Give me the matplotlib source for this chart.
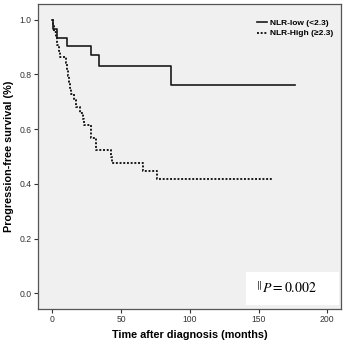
import numpy as np
import matplotlib
matplotlib.use('Agg')
import matplotlib.pyplot as plt
from matplotlib.lines import Line2D

# Kaplan-Meier step data
low_t = [0, 0.8, 3.6, 10.5, 27.9, 34.0, 86.5, 176.7]
low_s = [1.0, 0.968, 0.935, 0.903, 0.871, 0.830, 0.760, 0.760]

high_t = [0, 0.5, 1.5, 2.5, 3.5, 4.5, 5.5, 10.0, 10.8, 11.5, 12.2, 13.0, 13.5,
          16.0, 17.0, 20.0, 22.5, 23.0, 27.8, 28.0, 31.8, 32.0, 42.5, 43.5,
          65.7, 75.9, 159.8]
high_s = [1.0, 0.977, 0.955, 0.932, 0.909, 0.886, 0.864, 0.841, 0.818, 0.795,
          0.773, 0.750, 0.727, 0.705, 0.682, 0.659, 0.636, 0.614, 0.591, 0.568,
          0.545, 0.523, 0.500, 0.477, 0.448, 0.417, 0.417]

labels = ['NLR-low (<2.3)', 'NLR-High (\u22652.3)']
xticks = [0, 50, 100, 150, 200]
yticks = [0.0, 0.2, 0.4, 0.6, 0.8, 1.0]
ptext = r'$^{\parallel}\!P = 0.002$'

plt.rcParams['font.family'] = ['Liberation Sans', 'DejaVu Sans']
plt.rcParams['mathtext.fontset'] = 'stix'

fig = plt.figure(figsize=(3.49, 3.46), dpi=100)
ax = fig.add_axes([0.109, 0.107, 0.868, 0.881])
ax.set_facecolor('#f0f0f0')

ax.step(low_t, low_s, where='post', color='#1a1a1a', lw=1.2)
ax.step(high_t, high_s, where='post', color='#1a1a1a', lw=1.4, ls=(0, (1, 0.9)))

ax.set_xlim(-10.4, 210)
ax.set_ylim(-0.057, 1.057)
ax.set_xticks(xticks)
ax.set_yticks(yticks)
ax.set_yticklabels(['%.1f' % v for v in yticks])
ax.tick_params(labelsize=6.2, length=3, width=0.8, color='#333333', labelcolor='#333333', pad=1.5)
for sp in ax.spines.values():
    sp.set_color('#555555')
    sp.set_linewidth(0.9)

ax.set_xlabel('Time after diagnosis (months)', fontsize=7.8, fontweight='bold', labelpad=4)
ax.set_ylabel('Progression-free survival (%)', fontsize=7.8, fontweight='bold', labelpad=4)

handles = [Line2D([], [], color='#1a1a1a', lw=1.2),
           Line2D([], [], color='#1a1a1a', lw=1.4, ls=(0, (1, 0.9)))]
ax.legend(handles, labels, loc='upper right', bbox_to_anchor=(1.0, 0.975),
          frameon=False, handlelength=1.2, handletextpad=0.4, labelspacing=0.3,
          prop={'size': 6, 'weight': 'bold'})

box_x0 = (246 - 38) / 303.0
box_y0 = (309 - 305) / 305.0
ax.add_patch(plt.Rectangle((box_x0, box_y0), (339 - 246) / 303.0, (305 - 272) / 305.0,
                           transform=ax.transAxes, facecolor='white', edgecolor='none'))
ax.text(box_x0 + 0.03, box_y0 + 0.055, ptext, transform=ax.transAxes,
        fontsize=10, va='center', ha='left')

fig.savefig('out.png', dpi=100)
